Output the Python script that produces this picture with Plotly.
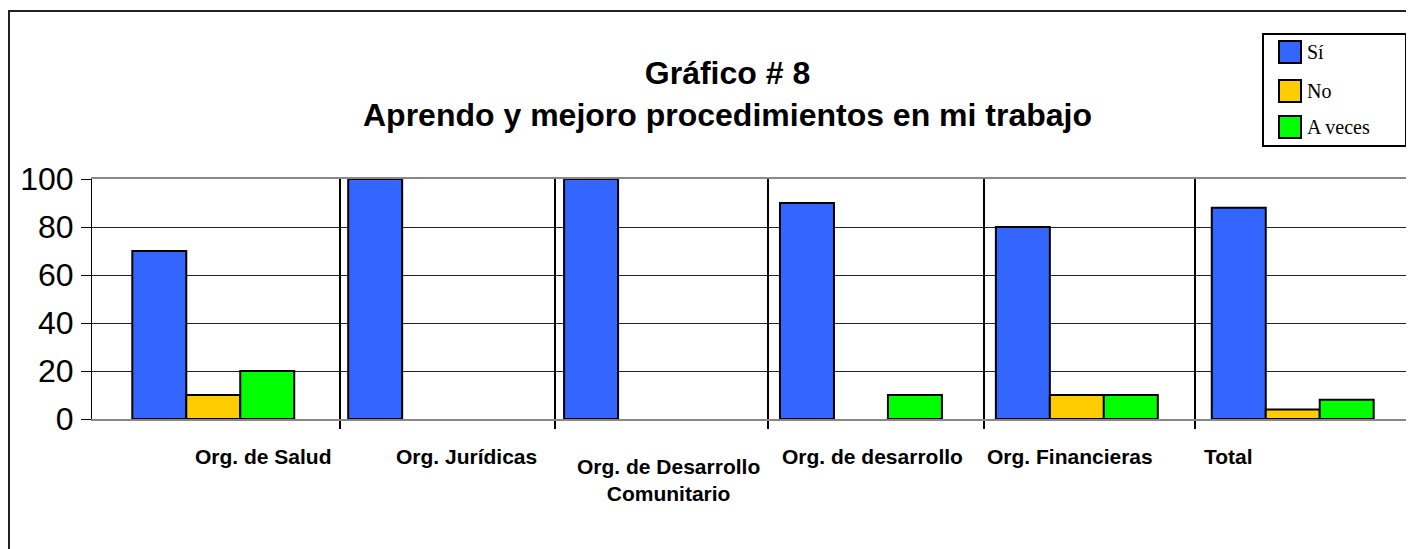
import plotly.graph_objects as go

# ---- data ----
categories = ["Org. de Salud", "Org. Jurídicas", "Org. de Desarrollo<br>Comunitario",
              "Org. de desarrollo", "Org. Financieras", "Total"]
series_names = ["Sí", "No", "A veces"]
si = [70, 100, 100, 90, 80, 88]
no = [10, 0, 0, 0, 10, 4]
a_veces = [20, 0, 0, 10, 10, 8]
y_ticks = [0, 20, 40, 60, 80, 100]

# ---- style / layout ----
W, H = 1414, 549
OFF = 8  # page body margin offset
PL, PR, PT, PB = 92 - OFF, 1414 - OFF, 179 - OFF, 419 - OFF   # plot area in figure pixels
colors = ["#3366FF", "#FFCC00", "#00FF00"]
label_shift_px = [50, 37, 23, 12, -7, -64]
sep_offsets = [0.585, 0.584, 0.569, 0.568, 0.545]
FONT = "Liberation Sans, Arial, sans-serif"
SERIF = "Liberation Serif, Times New Roman, serif"

def px_x(p):  # p: screenshot pixel
    return (p - OFF - PL) / (PR - PL)

def px_y(p):
    return (PB - (p - OFF)) / (PB - PT)

n = len(categories)
xs = list(range(n))

fig = go.Figure()
for name, vals, col in zip(series_names, [si, no, a_veces], colors):
    fig.add_trace(go.Bar(
        x=xs, y=[v if v else None for v in vals], name=name,
        marker=dict(color=col, line=dict(color="black", width=2)),
        showlegend=False,
    ))

# category labels
annotations = []
for i, (lab, sh) in enumerate(zip(categories, label_shift_px)):
    two = "<br>" in lab
    annotations.append(dict(
        x=i, xref="x", xshift=sh, y=px_y(480 if two else 456), yref="paper",
        text="<b>" + lab + "</b>", showarrow=False, xanchor="center", yanchor="middle",
        font=dict(family=FONT, size=21, color="black"), align="center",
    ))

# title
annotations.append(dict(
    x=px_x(727), xref="paper", y=px_y(94), yref="paper",
    text="<b>Gráfico # 8<br>Aprendo y mejoro procedimientos en mi trabajo</b>",
    showarrow=False, xanchor="center", yanchor="middle", align="center",
    font=dict(family=FONT, size=32, color="black"),
))

shapes = []
# outer chart border
shapes.append(dict(type="rect", xref="paper", yref="paper",
                   x0=px_x(9), x1=px_x(W + 40), y0=px_y(H + 40), y1=px_y(11),
                   line=dict(color="#222222", width=2), fillcolor="rgba(0,0,0,0)", layer="below"))
# legend box
shapes.append(dict(type="rect", xref="paper", yref="paper",
                   x0=px_x(1263), x1=px_x(1406), y0=px_y(146), y1=px_y(34),
                   line=dict(color="black", width=2), fillcolor="white"))
item_y = [52, 91, 127]
for name, col, yy in zip(series_names, colors, item_y):
    shapes.append(dict(type="rect", xref="paper", yref="paper",
                       x0=px_x(1279), x1=px_x(1301), y0=px_y(yy + 11), y1=px_y(yy - 11),
                       line=dict(color="black", width=2), fillcolor=col))
    annotations.append(dict(x=px_x(1305), xref="paper", y=px_y(yy), yref="paper",
                            text=name, showarrow=False, xanchor="left", yanchor="middle",
                            font=dict(family=SERIF, size=20, color="black")))

fig.update_layout(
    width=W, height=H,
    margin=dict(l=PL, r=W - PR, t=PT, b=H - PB, pad=0),
    paper_bgcolor="white", plot_bgcolor="white",
    barmode="group", bargap=0.25, bargroupgap=0,
    showlegend=False,
    annotations=annotations, shapes=shapes,
)
fig.update_xaxes(
    range=[(92 - 214) / 217.2, (1422 - 214) / 217.2],
    tickvals=[i + o for i, o in enumerate(sep_offsets)],
    showticklabels=False,
    showgrid=True, gridcolor="black", gridwidth=2,
    ticks="outside", ticklen=8, tickwidth=2, tickcolor="black",
    showline=True, linecolor="#888888", linewidth=2, mirror=True,
    zeroline=False,
)
fig.update_yaxes(
    range=[0, 100], tickvals=y_ticks,
    showgrid=True, gridcolor="#222222", gridwidth=1,
    ticks="outside", ticklen=10, tickwidth=1, tickcolor="black",
    showline=True, linecolor="black", linewidth=1,
    zeroline=False, ticklabelstandoff=1,
    tickfont=dict(family=FONT, size=32, color="black"),
)

fig.write_html("out.html")
